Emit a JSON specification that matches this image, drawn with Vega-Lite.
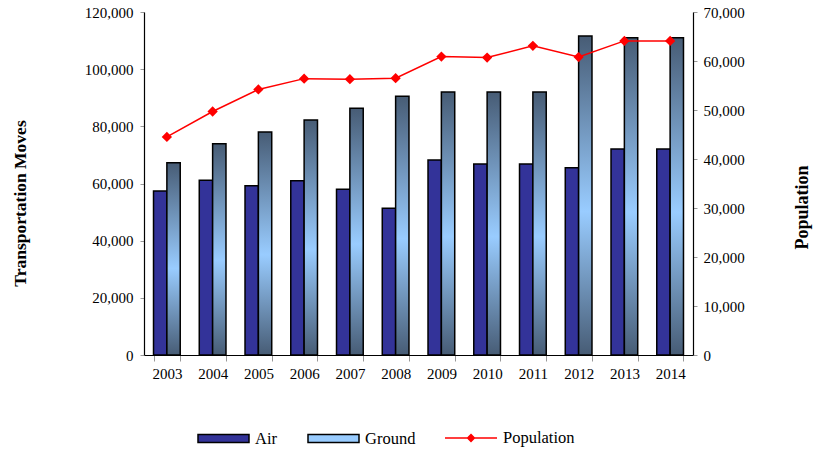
{
  "$schema": "https://vega.github.io/schema/vega-lite/v6.json",
  "width": 549,
  "height": 343,
  "autosize": "none",
  "padding": {"left": 144, "top": 12, "right": 125, "bottom": 94},
  "background": "white",
  "config": {
    "font": "Liberation Serif",
    "view": {"stroke": null},
    "axis": {
      "labelFont": "Liberation Serif",
      "titleFont": "Liberation Serif",
      "labelFontSize": 15,
      "labelColor": "#000",
      "titleColor": "#000",
      "grid": false,
      "domainColor": "#000",
      "domainWidth": 1.2,
      "tickColor": "#999"
    },
    "legend": {
      "labelFont": "Liberation Serif",
      "labelFontSize": 16.5,
      "labelColor": "#000",
      "labelOffset": 5,
      "padding": 0,
      "orient": "none",
      "direction": "horizontal"
    }
  },
  "datasets": {
    "moves": [
      {"Year": "2003", "Type": "Air", "Moves": 57400},
      {"Year": "2003", "Type": "Ground", "Moves": 67300},
      {"Year": "2004", "Type": "Air", "Moves": 61100},
      {"Year": "2004", "Type": "Ground", "Moves": 73900},
      {"Year": "2005", "Type": "Air", "Moves": 59200},
      {"Year": "2005", "Type": "Ground", "Moves": 78000},
      {"Year": "2006", "Type": "Air", "Moves": 61000},
      {"Year": "2006", "Type": "Ground", "Moves": 82200},
      {"Year": "2007", "Type": "Air", "Moves": 58000},
      {"Year": "2007", "Type": "Ground", "Moves": 86300},
      {"Year": "2008", "Type": "Air", "Moves": 51300},
      {"Year": "2008", "Type": "Ground", "Moves": 90500},
      {"Year": "2009", "Type": "Air", "Moves": 68200},
      {"Year": "2009", "Type": "Ground", "Moves": 92000},
      {"Year": "2010", "Type": "Air", "Moves": 66800},
      {"Year": "2010", "Type": "Ground", "Moves": 92000},
      {"Year": "2011", "Type": "Air", "Moves": 66800},
      {"Year": "2011", "Type": "Ground", "Moves": 92000},
      {"Year": "2012", "Type": "Air", "Moves": 65500},
      {"Year": "2012", "Type": "Ground", "Moves": 111600},
      {"Year": "2013", "Type": "Air", "Moves": 72100},
      {"Year": "2013", "Type": "Ground", "Moves": 111000},
      {"Year": "2014", "Type": "Air", "Moves": 72100},
      {"Year": "2014", "Type": "Ground", "Moves": 111000}
    ],
    "population": [
      {"Year": "2003", "Type": "Population", "Population": 44500},
      {"Year": "2004", "Type": "Population", "Population": 49700},
      {"Year": "2005", "Type": "Population", "Population": 54200},
      {"Year": "2006", "Type": "Population", "Population": 56400},
      {"Year": "2007", "Type": "Population", "Population": 56300},
      {"Year": "2008", "Type": "Population", "Population": 56500},
      {"Year": "2009", "Type": "Population", "Population": 60900},
      {"Year": "2010", "Type": "Population", "Population": 60700},
      {"Year": "2011", "Type": "Population", "Population": 63100},
      {"Year": "2012", "Type": "Population", "Population": 60800},
      {"Year": "2013", "Type": "Population", "Population": 64100},
      {"Year": "2014", "Type": "Population", "Population": 64100}
    ]
  },
  "layer": [
    {
      "data": {"name": "moves"},
      "mark": {"type": "bar", "stroke": "#000", "strokeWidth": 1.5},
      "encoding": {
        "x": {
          "field": "Year",
          "type": "nominal",
          "scale": {"paddingInner": 0.416, "paddingOuter": 0.208},
          "axis": {
            "title": null,
            "labelAngle": 0,
            "tickBand": "extent",
            "tickSize": 6,
            "labelPadding": 5
          }
        },
        "xOffset": {
          "field": "Type",
          "type": "nominal",
          "scale": {"domain": ["Air", "Ground"], "paddingInner": 0, "paddingOuter": 0}
        },
        "y": {
          "field": "Moves",
          "type": "quantitative",
          "scale": {"domain": [0, 120000], "nice": false},
          "axis": {
            "title": "Transportation Moves",
            "format": ",d",
            "values": [0, 20000, 40000, 60000, 80000, 100000, 120000],
            "tickSize": 4,
            "labelPadding": 7,
            "titleFontSize": 17.5,
            "titleFontWeight": "bold",
            "titleAngle": 270,
            "titleAlign": "center",
            "titleBaseline": "middle",
            "titleX": -124,
            "titleY": 191
          }
        },
        "fill": {
          "condition": {
            "test": "datum.Type === 'Ground'",
            "value": {
              "gradient": "linear",
              "x1": 0, "y1": 0, "x2": 0, "y2": 1,
              "stops": [
                {"offset": 0, "color": "#475c75"},
                {"offset": 0.55, "color": "#99ccff"},
                {"offset": 1, "color": "#475c75"}
              ]
            }
          },
          "field": "Type",
          "type": "nominal",
          "scale": {"domain": ["Air", "Ground"], "range": ["#333399", "#99ccff"]},
          "legend": {
            "title": null,
            "legendX": 53,
            "legendY": 400,
            "labelFont": "Liberation Serif",
            "labelFontSize": 16.5,
            "labelColor": "#000",
            "symbolType": "M-1,-0.16H1V0.16H-1Z",
            "symbolSize": 2601,
            "symbolStrokeColor": "#000",
            "symbolStrokeWidth": 1.5,
            "symbolOpacity": 1,
            "columnPadding": 28
          }
        }
      }
    },
    {
      "data": {"name": "population"},
      "mark": {
        "type": "line",
        "strokeWidth": 1.5,
        "point": {"filled": true, "shape": "diamond", "size": 56, "fill": "#ff0000", "stroke": null}
      },
      "encoding": {
        "x": {"field": "Year", "type": "nominal"},
        "y": {
          "field": "Population",
          "type": "quantitative",
          "scale": {"domain": [0, 70000], "nice": false},
          "axis": {
            "orient": "right",
            "title": "Population",
            "format": ",d",
            "values": [0, 10000, 20000, 30000, 40000, 50000, 60000, 70000],
            "tickSize": 4,
            "labelPadding": 6,
            "titleFontSize": 18,
            "titleFontWeight": "bold",
            "titleAngle": 270,
            "titleAlign": "center",
            "titleBaseline": "middle",
            "titleX": 109,
            "titleY": 195
          }
        },
        "stroke": {
          "field": "Type",
          "type": "nominal",
          "scale": {"domain": ["Population"], "range": ["#ff0000"]},
          "legend": {
            "title": null,
            "legendX": 300,
            "legendY": 399,
            "labelFont": "Liberation Serif",
            "labelFontSize": 16.5,
            "labelColor": "#000",
            "symbolType": "M-1,0H1M0,-0.13L0.13,0L0,0.13L-0.13,0Z",
            "symbolSize": 2704,
            "symbolFillColor": "#ff0000",
            "symbolStrokeWidth": 1.5,
            "symbolOpacity": 1
          }
        }
      }
    }
  ],
  "resolve": {"scale": {"y": "independent"}}
}
